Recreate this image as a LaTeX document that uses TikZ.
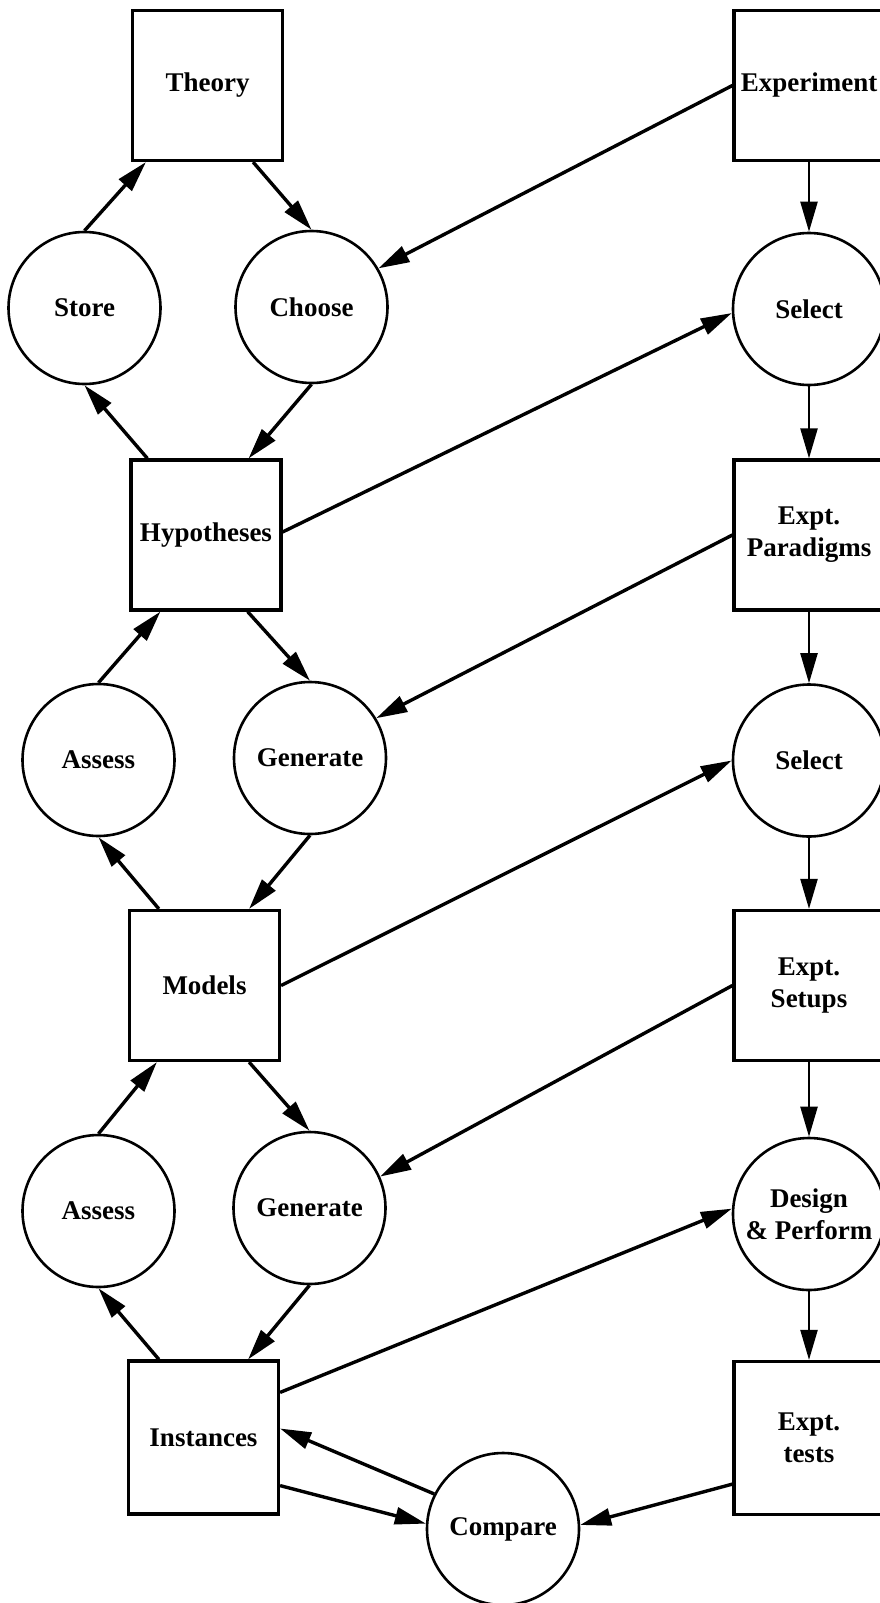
\documentclass[tikz,border=0pt]{standalone}
\usepackage{fontspec}
\setmainfont{Liberation Serif}
\usetikzlibrary{arrows.meta}
\begin{document}
\begin{tikzpicture}[x=1pt,y=-1pt,
  lbl/.style={font=\fontsize{27}{32}\selectfont\bfseries, align=center},
  box/.style={lbl, draw, line width=3.2pt, minimum width=150pt, minimum height=150pt, inner sep=0pt},
  proc/.style={lbl, draw, circle, line width=2.6pt, minimum size=152pt, inner sep=0pt},
  link/.style={line width=3.4pt, -{Triangle[length=31pt,width=17pt]}},
  flow/.style={line width=2.3pt, -{Triangle[length=30pt,width=17pt]}}
]
\useasboundingbox (0,0) rectangle (880,1603);

% theory side: boxes
\node[box] (theory) at (207.5,85.5) {Theory};
\node[box] (hyp)    at (206,535)    {Hypotheses};
\node[box] (models) at (204.5,985.5) {Models};
\node[box, minimum height=153pt] (inst) at (203.5,1437.5) {Instances};

% theory side: processes
\node[proc] (store)   at (84.5,308)  {Store};
\node[proc] (choose)  at (311.5,307) {Choose};
\node[proc] (assessA) at (98.5,760)  {Assess};
\node[proc] (genA)    at (310,758)   {Generate};
\node[proc] (assessB) at (98.5,1211) {Assess};
\node[proc] (genB)    at (309.5,1208) {Generate};
\node[proc] (compare) at (503,1529)  {Compare};

% experiment side
\node[box] (expt)   at (809,85.5)  {Experiment};
\node[proc] (selA)  at (809,309)   {Select};
\node[box] (parad)  at (809,535)   {Expt.\\Paradigms};
\node[proc] (selB)  at (809,760.5) {Select};
\node[box] (setups) at (809,985.5) {Expt.\\Setups};
\node[proc] (design) at (809,1214) {Design\\\& Perform};
\node[box, minimum height=153pt] (tests) at (809,1438) {Expt.\\tests};

% theory cycles
\draw[link] (store.north) -- ([xshift=15pt]theory.south west);
\draw[link] ([xshift=-31pt]theory.south east) -- (choose.north);
\draw[link] ([xshift=18pt]hyp.north west) -- (store.south);
\draw[link] (choose.south) -- ([xshift=-34pt]hyp.north east);

\draw[link] (assessA.north) -- ([xshift=31pt]hyp.south west);
\draw[link] ([xshift=-35pt]hyp.south east) -- (genA.north);
\draw[link] ([xshift=31pt]models.north west) -- (assessA.south);
\draw[link] (genA.south) -- ([xshift=-32pt]models.north east);

\draw[link] (assessB.north) -- ([xshift=29pt]models.south west);
\draw[link] ([xshift=-32pt]models.south east) -- (genB.north);
\draw[link] ([xshift=32pt]inst.north west) -- (assessB.south);
\draw[link] (genB.south) -- ([xshift=-32pt]inst.north east);

% experiment chain
\draw[flow] (expt.south) -- (selA.north);
\draw[flow] (selA.south) -- (parad.north);
\draw[flow] (parad.south) -- (selB.north);
\draw[flow] (selB.south) -- (setups.north);
\draw[flow] (setups.south) -- (design.north);
\draw[flow] (design.south) -- (tests.north);

% cross links
\draw[link] (expt.west) -- (choose.30);
\draw[link] ([yshift=3pt]hyp.east) -- (selA.183);
\draw[link] (parad.west) -- (genA.31);
\draw[link] (models.east) -- (selB.west);
\draw[link] (setups.west) -- (genB.24);
\draw[link] ([yshift=-33pt]inst.north east) -- (design.176);
\draw[link] ([yshift=30pt]inst.south east) -- (compare.176);
\draw[link] (compare.153) -- ([yshift=9pt]inst.east);
\draw[link] ([yshift=32pt]tests.south west) -- (compare.3);
\end{tikzpicture}
\end{document}
